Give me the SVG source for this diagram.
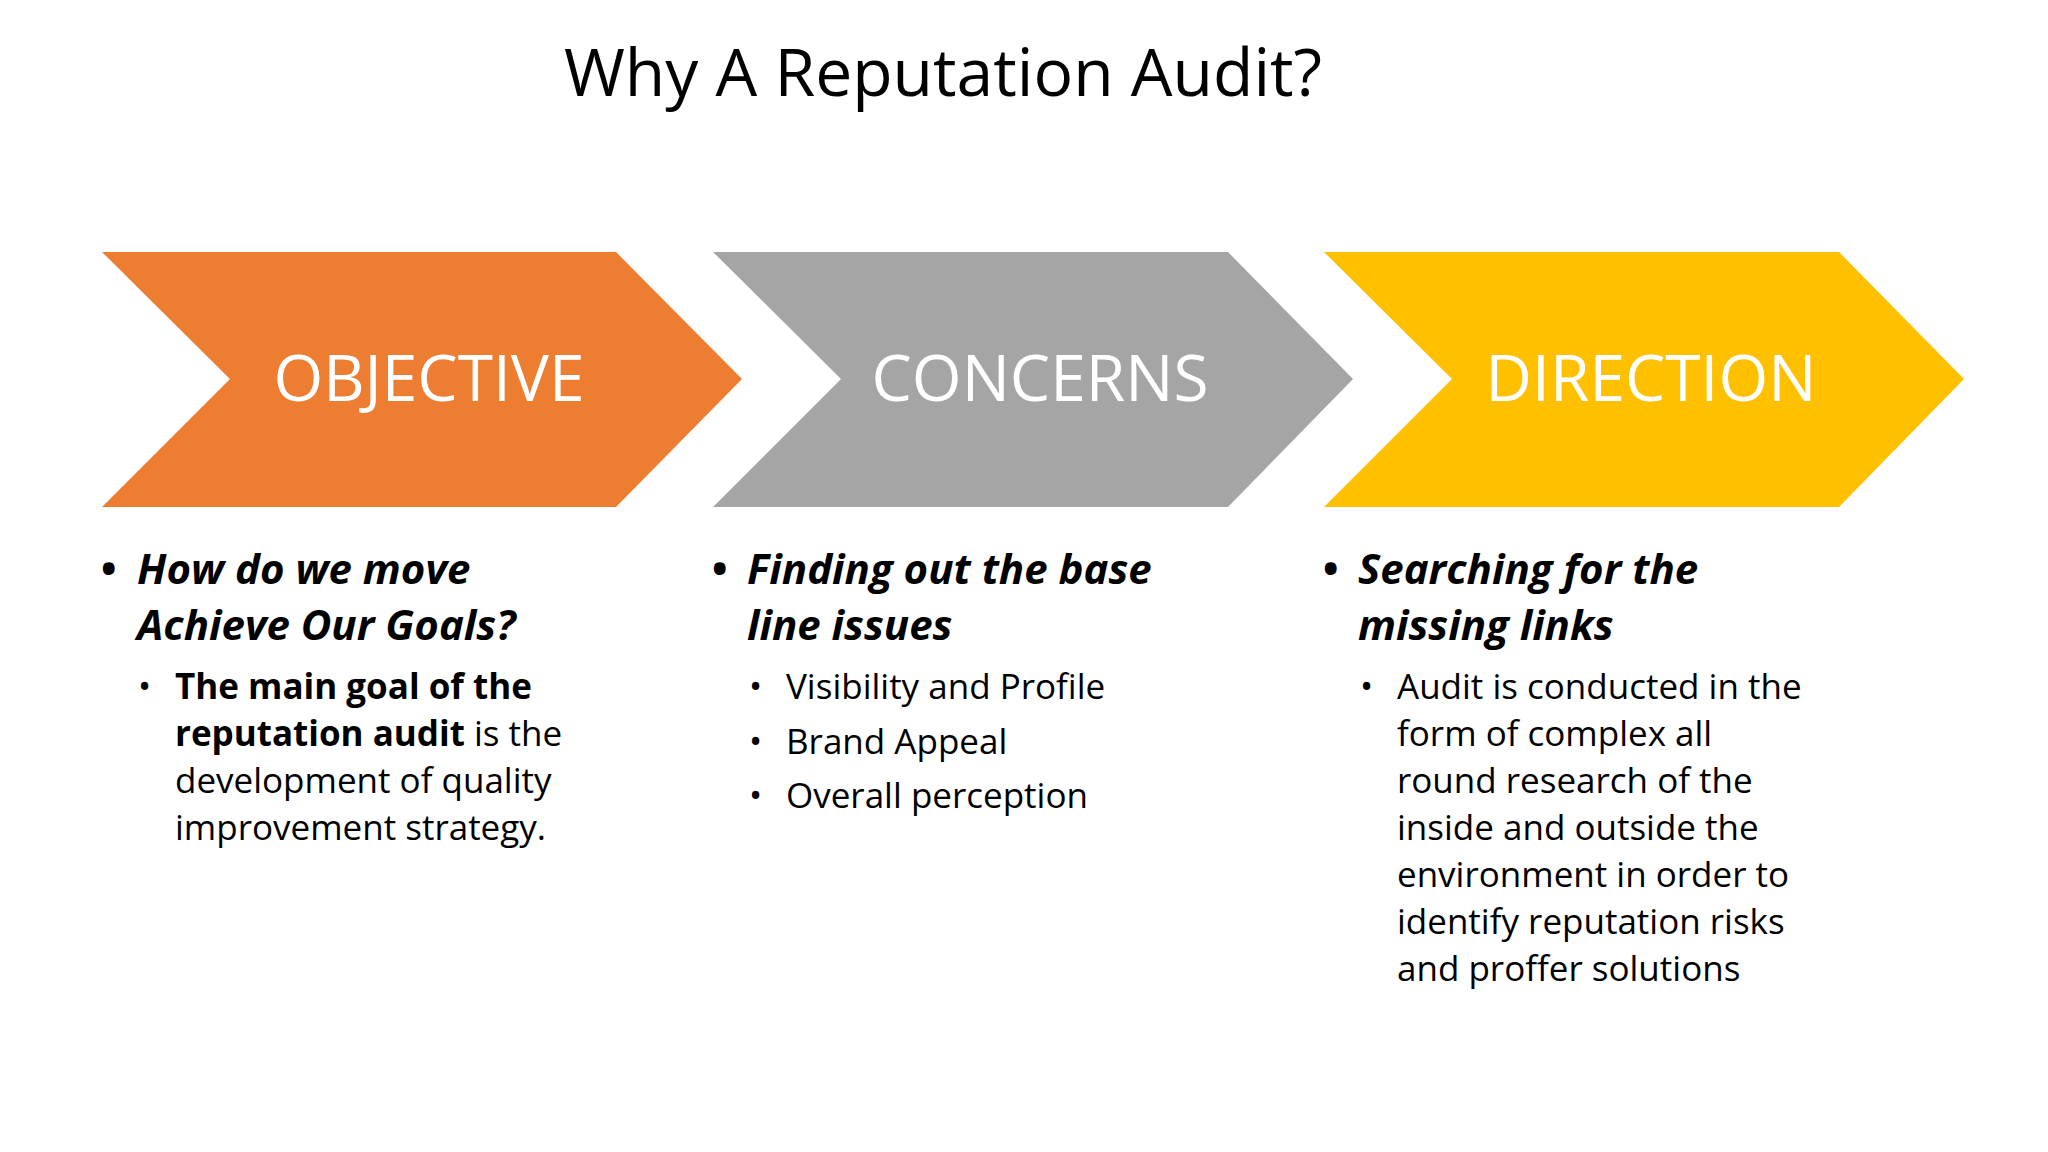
<svg xmlns="http://www.w3.org/2000/svg" width="2048" height="1152" viewBox="0 0 2048 1152">
<style>
text{font-family:"Open Sans","Noto Sans",sans-serif;fill:#000}
.title{font-size:66px;text-anchor:middle}
.lab{font-size:64px;fill:#fff;text-anchor:middle}
.h{font-size:42px;font-weight:bold;font-style:italic}
.s{font-size:35px}
.b{font-weight:bold}
</style>
<rect width="2048" height="1152" fill="#fff"/>
<text class="title" x="943" y="96">Why A Reputation Audit?</text>
<g id="objective"><polygon points="102,252 616,252 742,379 616,507 102,507 230,379" fill="#ED7D31"/><text class="lab" x="429" y="401">OBJECTIVE</text></g>
<g id="concerns"><polygon points="713,252 1228,252 1353,379 1228,507 713,507 841,379" fill="#A5A5A5"/><text class="lab" x="1040" y="401">CONCERNS</text></g>
<g id="direction"><polygon points="1324,252 1839,252 1964,379 1839,507 1324,507 1452,379" fill="#FFC000"/><text class="lab" x="1651" y="401">DIRECTION</text></g>
<g id="col1">
<text class="h" x="100" y="584">•</text>
<text class="h" x="137" y="584">How do we move</text>
<text class="h" x="137" y="640">Achieve Our Goals?</text>
<text class="s" x="138" y="699">•</text>
<text class="s" x="175" y="699"><tspan class="b">The main goal of the</tspan></text>
<text class="s" x="175" y="746"><tspan class="b">reputation audit</tspan>  is the</text>
<text class="s" x="175" y="793">development of quality</text>
<text class="s" x="175" y="840">improvement strategy.</text>
</g>
<g id="col2">
<text class="h" x="711" y="584">•</text>
<text class="h" x="747" y="584">Finding out the base</text>
<text class="h" x="747" y="640">line issues</text>
<text class="s" x="749" y="699">•</text><text class="s" x="786" y="699">Visibility and Profile</text>
<text class="s" x="749" y="754">•</text><text class="s" x="786" y="754">Brand Appeal</text>
<text class="s" x="749" y="808">•</text><text class="s" x="786" y="808">Overall perception</text>
</g>
<g id="col3">
<text class="h" x="1322" y="584">•</text>
<text class="h" x="1358" y="584">Searching for the</text>
<text class="h" x="1358" y="640">missing links</text>
<text class="s" x="1360" y="699">•</text>
<text class="s" x="1397" y="699">Audit is conducted in the</text>
<text class="s" x="1397" y="746">form of complex all</text>
<text class="s" x="1397" y="793">round research of the</text>
<text class="s" x="1397" y="840">inside and outside the</text>
<text class="s" x="1397" y="887">environment in order to</text>
<text class="s" x="1397" y="934">identify reputation risks</text>
<text class="s" x="1397" y="981">and proffer solutions</text>
</g>
<g id="connectors"/>
</svg>
